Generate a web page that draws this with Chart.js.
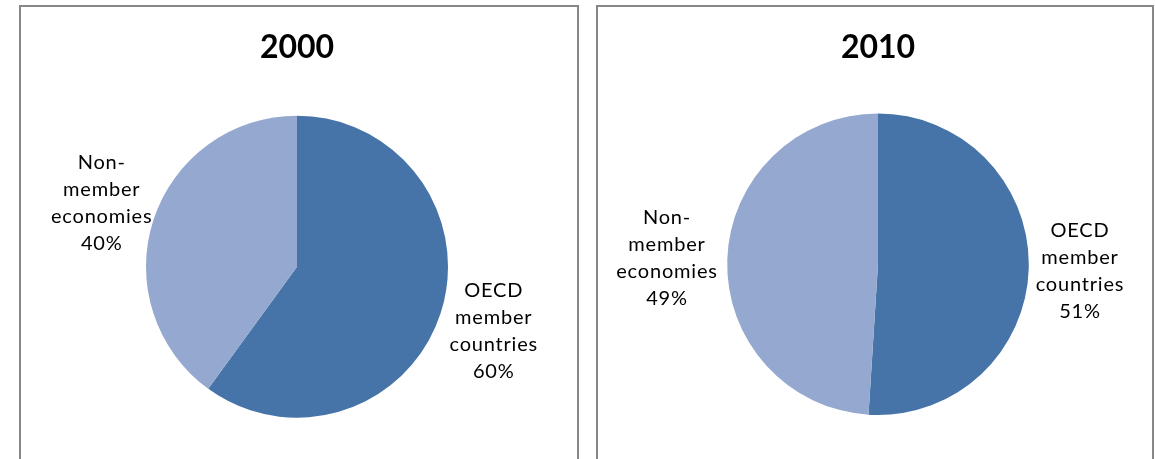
<!DOCTYPE html>
<html>
<head>
<meta charset="utf-8">
<script src="https://cdn.jsdelivr.net/npm/chart.js@4.4.1/dist/chart.umd.min.js"></script>
<style>
  html, body { margin: 0; padding: 0; background: #fff; overflow: hidden; width: 1155px; height: 459px; }
  .panel { position: absolute; top: 5px; height: 470px; border: 2px solid #878787; box-sizing: border-box; background: #fff; }
  #p1 { left: 19px; width: 560px; }
  #p2 { left: 596px; width: 558px; }
  canvas { position: absolute; top: 0; left: 0; }
</style>
</head>
<body>
<div class="panel" id="p1"><canvas id="c1" width="556" height="452"></canvas></div>
<div class="panel" id="p2"><canvas id="c2" width="554" height="452"></canvas></div>
<script>
const categories = ['OECD member countries', 'Non-member economies'];
const categoryLines = [['OECD', 'member', 'countries'], ['Non-', 'member', 'economies']];
const years = ['2000', '2010'];
const values2000 = [60, 40];
const values2010 = [51, 49];
const sliceColors = ['#4674A8', '#95A9D0'];

const labelPlugin = {
  id: 'sliceLabels',
  afterDatasetsDraw(chart, args, opts) {
    const ctx = chart.ctx;
    const meta = chart.getDatasetMeta(0);
    const data = chart.data.datasets[0].data;
    ctx.save();
    ctx.font = opts.font;
    ctx.fillStyle = '#000';
    ctx.textAlign = 'center';
    ctx.textBaseline = 'middle';
    if ('letterSpacing' in ctx) ctx.letterSpacing = opts.letterSpacing || '0px';
    meta.data.forEach((arc, i) => {
      const p = arc.getProps(['x', 'y', 'startAngle', 'endAngle', 'outerRadius'], true);
      const mid = (p.startAngle + p.endAngle) / 2;
      const d = p.outerRadius * opts.dist[i];
      const cx = p.x + Math.cos(mid) * d;
      const cy = p.y + Math.sin(mid) * d;
      const lines = categoryLines[i].concat([data[i] + '%']);
      const lh = opts.lineHeight;
      const top = cy - (lines.length - 1) * lh / 2;
      lines.forEach((t, j) => ctx.fillText(t, cx, top + j * lh));
    });
    ctx.restore();
  }
};

function makePie(id, year, values, pad, titlePad, dist) {
  return new Chart(document.getElementById(id), {
    type: 'pie',
    data: {
      labels: categories,
      datasets: [{ data: values, backgroundColor: sliceColors, borderWidth: 0 }]
    },
    options: {
      responsive: false,
      devicePixelRatio: 1,
      animation: false,
      rotation: 0,
      layout: { padding: pad },
      plugins: {
        legend: { display: false },
        tooltip: { enabled: false },
        title: {
          display: true,
          text: year,
          color: '#000',
          font: { family: 'Lato', size: 32, weight: 'bold', lineHeight: 1.2 },
          padding: titlePad
        },
        sliceLabels: { font: '20px Lato', lineHeight: 27, dist: dist, letterSpacing: '0.8px' }
      }
    },
    plugins: [labelPlugin]
  });
}

makePie('c1', years[0], values2000, { left: 125, right: 129, top: 0, bottom: 41 }, { top: 21, bottom: 49 }, [1.37, 1.36]);
makePie('c2', years[1], values2010, { left: 129, right: 123, top: 0, bottom: 44 }, { top: 21, bottom: 47 }, [1.34, 1.40]);
</script>
</body>
</html>
